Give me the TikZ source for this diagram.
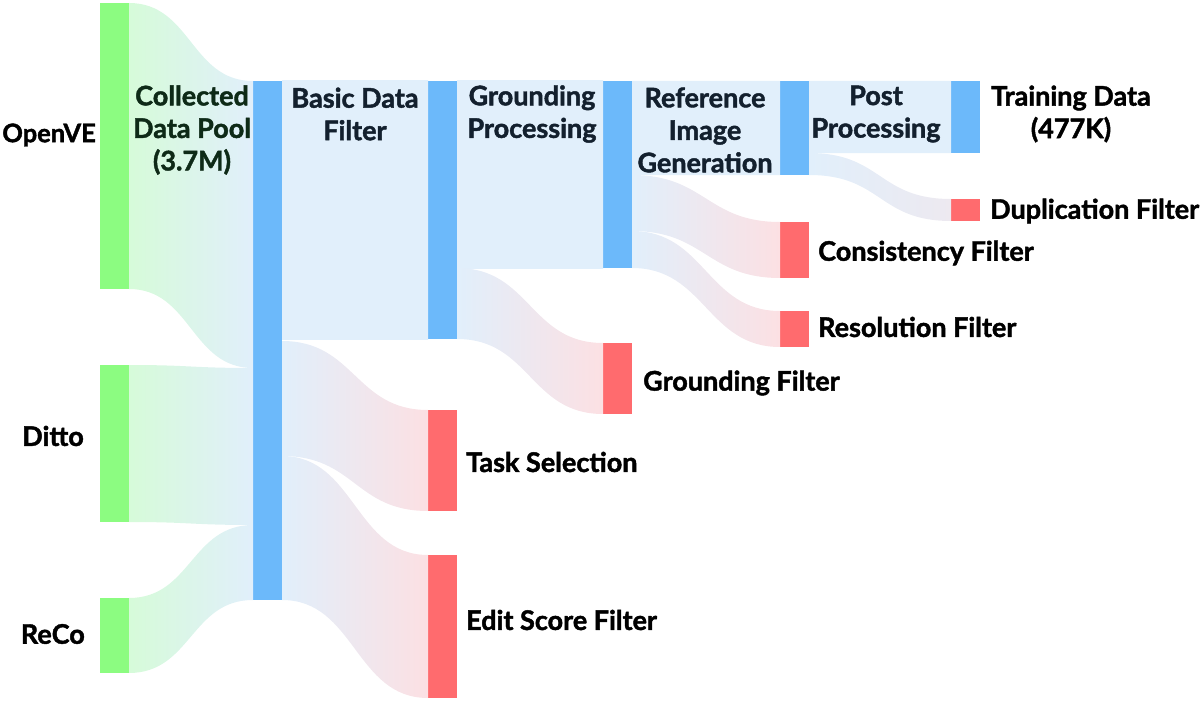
\documentclass[tikz,border=0pt]{standalone}
\usepackage{fontspec}
\setmainfont{Lato}[BoldFeatures={FakeBold=1.6}]
\usetikzlibrary{calc}
\definecolor{barg}{HTML}{8CFC81}
\definecolor{barb}{HTML}{6CB9FA}
\definecolor{barr}{HTML}{FF6B6E}
\definecolor{flowg}{HTML}{D6FBD9}
\definecolor{flowb}{HTML}{E1EFFB}
\definecolor{flowr}{HTML}{FCE0E3}
\definecolor{flowd}{HTML}{EDE9F0}
\definecolor{inkg}{HTML}{0E2A17}
\definecolor{inkb}{HTML}{13202E}
\tikzset{   bar/.style = {rectangle, inner sep = 0, outer sep = 0, minimum width = 29pt, anchor = north west},
            src/.style = {bar, fill = barg},
            stage/.style = {bar, fill = barb},
            drop/.style = {bar, fill = barr},
            greenflow/.style = {left color = flowg, right color = flowb},
            blueflow/.style = {left color = flowb, right color = flowb},
            redflow/.style = {left color = flowb, right color = flowr},
            dupflow/.style = {left color = flowb, right color = flowd},
            side/.style = {font = \fontsize{27}{32.5}\selectfont\bfseries, text = black, inner sep = 0},
            head/.style = {font = \fontsize{27}{32.5}\selectfont\bfseries, text = inkb, align = center, inner sep = 0}}
\def\bend{73}
\newcommand{\flow}[7]{\shade[#7] ($(#1.north east)+(0,#2)$) .. controls +(\bend,0) and +(-\bend,0) .. ($(#4.north west)+(0,#5)$)
    -- ($(#4.north west)+(0,#6)$) .. controls +(-\bend,0) and +(\bend,0) .. ($(#1.north east)+(0,#3)$) -- cycle;}

\begin{document}
\begin{tikzpicture}[x=1pt, y=-1pt]
                        \useasboundingbox (0,0) rectangle (1200,701);
                        \node[src, minimum height=286pt] (openve) at (100,3) {};
                        \node[src, minimum height=157pt] (ditto) at (100,365) {};
                        \node[src, minimum height=75pt] (reco) at (100,598) {};
                        \node[stage, minimum height=519pt] (pool) at (253,81) {};
                        \node[stage, minimum height=258pt] (basic) at (428,81) {};
                        \node[drop, minimum height=101pt] (task) at (428,410) {};
                        \node[drop, minimum height=143pt] (edit) at (428,555) {};
                        \node[stage, minimum height=187pt] (ground) at (603,81) {};
                        \node[drop, minimum height=71pt] (gfilt) at (603,343) {};
                        \node[stage, minimum height=94pt] (refgen) at (780,81) {};
                        \node[drop, minimum height=56pt] (cons) at (780,222) {};
                        \node[drop, minimum height=36pt] (reso) at (780,311) {};
                        \node[stage, minimum height=72pt] (train) at (951,81) {};
                        \node[drop, minimum height=22pt] (dup) at (951,199) {};

                        \begin{scope}
                        \def\bend{62}
                        \flow{openve}{0}{286}{pool}{0}{287}{greenflow}
                        \flow{ditto}{0}{157}{pool}{287}{444}{greenflow}
                        \flow{reco}{0}{75}{pool}{444}{519}{greenflow}
                        \end{scope}
                        \flow{pool}{0}{258}{basic}{0}{258}{blueflow}
                        \flow{pool}{260}{375}{task}{0}{101}{redflow}
                        \flow{pool}{375}{519}{edit}{0}{143}{redflow}
                        \flow{basic}{0}{187}{ground}{0}{187}{blueflow}
                        \flow{basic}{187}{258}{gfilt}{0}{71}{redflow}
                        \flow{ground}{0}{94}{refgen}{0}{94}{blueflow}
                        \flow{ground}{94}{150}{cons}{0}{56}{redflow}
                        \flow{ground}{150}{187}{reso}{0}{36}{redflow}
                        \flow{refgen}{0}{72}{train}{0}{72}{blueflow}
                        \flow{refgen}{72}{94}{dup}{0}{22}{dupflow}

                        \node[side, anchor=east, font=\fontsize{25.5}{32.5}\selectfont\bfseries] (lopenve) at (96,135) {OpenVE};
                        \node[side, anchor=east] (lditto) at (84,436) {Ditto};
                        \node[side, anchor=east] (lreco) at (85,634) {ReCo};
                        \node[head, text=inkg] (lpool) at (192,130) {Collected\\Data Pool\\(3.7M)};
                        \node[head] (lbasic) at (355,114) {Basic Data\\Filter};
                        \node[head] (lground) at (532,114) {Grounding\\Processing};
                        \node[head] (lrefgen) at (705,130) {Reference\\Image\\Generation};
                        \node[head] (lpost) at (876,114) {Post\\Processing};
                        \node[head, text=black] (ltrain) at (1071,114) {Training Data\\(477K)};
                        \node[side, anchor=west] (ldup) at (990,211) {Duplication Filter};
                        \node[side, anchor=west] (lcons) at (818,253) {Consistency Filter};
                        \node[side, anchor=west] (lreso) at (818,327) {Resolution Filter};
                        \node[side, anchor=west] (lgfilt) at (643,383) {Grounding Filter};
                        \node[side, anchor=west] (ltask) at (466,462) {Task Selection};
                        \node[side, anchor=west] (ledit) at (466,620) {Edit Score Filter};
\end{tikzpicture}
\end{document}
